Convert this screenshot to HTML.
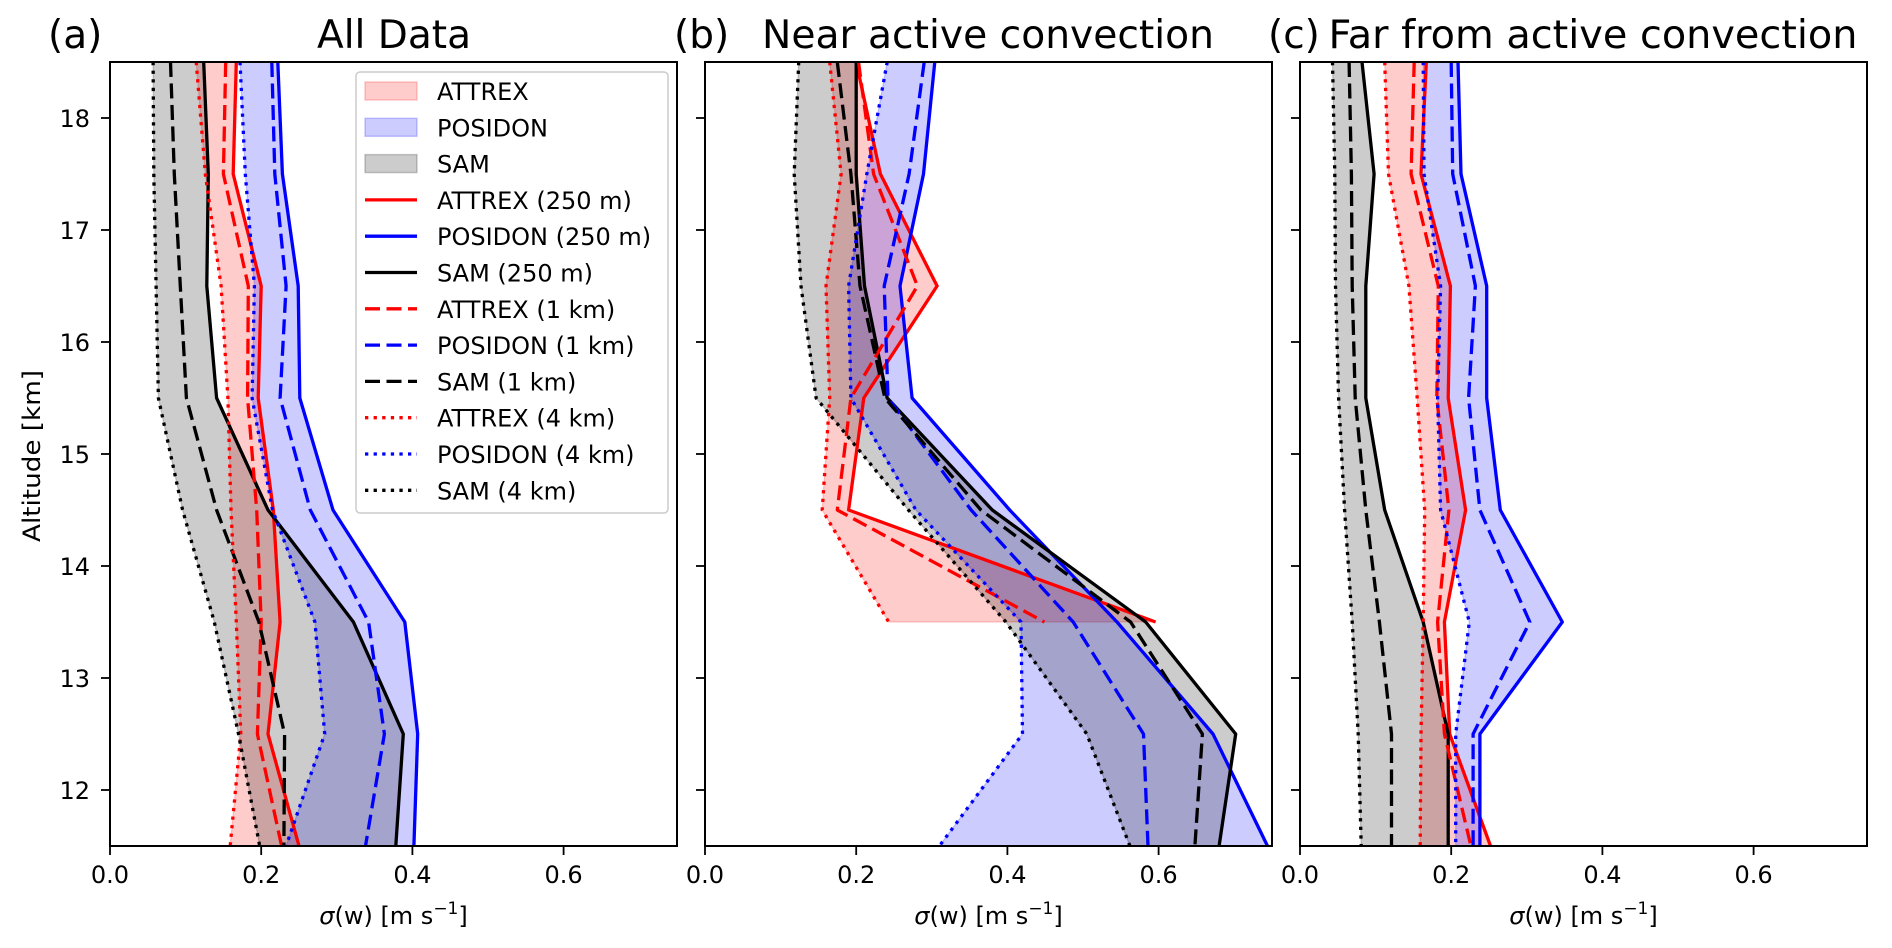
<!DOCTYPE html>
<html><head><meta charset="utf-8"><style>
html,body{margin:0;padding:0;background:#fff;}
svg{display:block;font-family:"DejaVu Sans","Liberation Sans",sans-serif;}
</style></head><body>
<svg id="chart" width="1892" height="948" viewBox="0 0 1892 948" xmlns="http://www.w3.org/2000/svg"></svg>
<script>
// ---- data ----
const levels = [18.5, 17.5, 16.5, 15.5, 14.5, 13.5, 12.5, 11.5];
const xTicks = [0.0, 0.2, 0.4, 0.6];
const xTickLabels = ["0.0", "0.2", "0.4", "0.6"];
const yTicks = [12, 13, 14, 15, 16, 17, 18];
const yTickLabels = ["12", "13", "14", "15", "16", "17", "18"];
const panelTitles = ["All Data", "Near active convection", "Far from active convection"];
const panelLetters = ["(a)", "(b)", "(c)"];

// Panel (a) All Data
const aAttrex250 = [0.167, 0.163, 0.200, 0.196, 0.216, 0.225, 0.209, 0.250];
const aAttrex1k  = [0.153, 0.150, 0.183, 0.182, 0.194, 0.200, 0.195, 0.227];
const aAttrex4k  = [0.114, 0.126, 0.147, 0.156, 0.160, 0.167, 0.173, 0.159];
const aPosidon250 = [0.222, 0.228, 0.249, 0.251, 0.295, 0.390, 0.407, 0.402];
const aPosidon1k  = [0.214, 0.218, 0.233, 0.225, 0.265, 0.342, 0.363, 0.338];
const aPosidon4k  = [0.172, 0.179, 0.191, 0.188, 0.215, 0.271, 0.284, 0.233];
const aSam250 = [0.124, 0.130, 0.128, 0.141, 0.209, 0.322, 0.388, 0.378];
const aSam1k  = [0.080, 0.085, 0.093, 0.101, 0.141, 0.197, 0.231, 0.230];
const aSam4k  = [0.057, 0.058, 0.061, 0.064, 0.096, 0.138, 0.170, 0.198];

// Panel (b) Near active convection
const bAttrex250 = [0.200, 0.232, 0.307, 0.210, 0.190, 0.596, null, null];
const bAttrex1k  = [0.203, 0.223, 0.281, 0.193, 0.175, 0.449, null, null];
const bAttrex4k  = [0.165, 0.180, 0.160, 0.165, 0.155, 0.243, null, null];
const bPosidon250 = [0.304, 0.289, 0.258, 0.274, 0.403, 0.545, 0.672, 0.744];
const bPosidon1k  = [0.290, 0.270, 0.237, 0.242, 0.352, 0.487, 0.580, 0.586];
const bPosidon4k  = [0.241, 0.214, 0.190, 0.193, 0.279, 0.418, 0.420, 0.310];
const bSam250 = [0.200, 0.200, 0.211, 0.241, 0.380, 0.583, 0.702, 0.680];
const bSam1k  = [0.175, 0.193, 0.205, 0.238, 0.365, 0.563, 0.658, 0.648];
const bSam4k  = [0.124, 0.118, 0.127, 0.147, 0.269, 0.398, 0.505, 0.562];

// Panel (c) Far from active convection
const cAttrex250 = [0.167, 0.160, 0.199, 0.196, 0.219, 0.191, 0.198, 0.252];
const cAttrex1k  = [0.151, 0.147, 0.183, 0.181, 0.197, 0.182, 0.191, 0.226];
const cAttrex4k  = [0.112, 0.117, 0.144, 0.155, 0.165, 0.163, 0.160, 0.159];
const cPosidon250 = [0.209, 0.213, 0.247, 0.247, 0.265, 0.347, 0.238, 0.238];
const cPosidon1k  = [0.200, 0.202, 0.232, 0.223, 0.238, 0.304, 0.229, 0.229];
const cPosidon4k  = [0.163, 0.164, 0.186, 0.182, 0.186, 0.224, 0.206, 0.206];
const cSam250 = [0.082, 0.098, 0.087, 0.087, 0.112, 0.163, 0.196, 0.196];
const cSam1k  = [0.065, 0.068, 0.069, 0.073, 0.087, 0.105, 0.121, 0.121];
const cSam4k  = [0.043, 0.046, 0.047, 0.051, 0.059, 0.069, 0.077, 0.081];

const panelsData = [
  {att:[aAttrex250,aAttrex1k,aAttrex4k], pos:[aPosidon250,aPosidon1k,aPosidon4k], sam:[aSam250,aSam1k,aSam4k]},
  {att:[bAttrex250,bAttrex1k,bAttrex4k], pos:[bPosidon250,bPosidon1k,bPosidon4k], sam:[bSam250,bSam1k,bSam4k]},
  {att:[cAttrex250,cAttrex1k,cAttrex4k], pos:[cPosidon250,cPosidon1k,cPosidon4k], sam:[cSam250,cSam1k,cSam4k]}
];

// ---- layout ----
const NS = "http://www.w3.org/2000/svg";
const svg = document.getElementById("chart");
const panelLeft = [110, 705, 1300];
const PW = 567, PT = 62, PB = 846;
const XMAX = 0.75, YMIN = 11.5, YMAX = 18.5;
const titleCenters = [394, 988, 1593];
const titleWidths = [154, 452, 529];
const letterX = [48, 674, 1268];

function mk(tag, attrs, parent) {
  const e = document.createElementNS(NS, tag);
  for (const k in attrs) e.setAttribute(k, attrs[k]);
  (parent || svg).appendChild(e);
  return e;
}

const colors = {att:"#ff0000", pos:"#0000ff", sam:"#000000"};
const seriesNames = {att:"attrex", pos:"posidon", sam:"sam"};
const resNames = ["250m", "1km", "4km"];
const dashes = ["", "15 6.5", "3.3 5.3"];

const defs = mk("defs", {});

panelsData.forEach((pd, pi) => {
  const L = panelLeft[pi];
  const xs = v => L + v / XMAX * PW;
  const ys = h => PT + (YMAX - h) / (YMAX - YMIN) * (PB - PT);

  const g = mk("g", {});
  
  

  const cp = mk("clipPath", {id: "clip" + pi}, defs);
  mk("rect", {x: L, y: PT, width: PW, height: PB - PT}, cp);
  const plot = mk("g", {"clip-path": "url(#clip" + pi + ")"}, g);

  // fills
  ["att", "pos", "sam"].forEach(key => {
    const hi = pd[key][0], lo = pd[key][2];
    const top = [], bot = [];
    levels.forEach((h, i) => {
      if (hi[i] != null && lo[i] != null) {
        top.push(xs(hi[i]).toFixed(1) + "," + ys(h).toFixed(1));
        bot.unshift(xs(lo[i]).toFixed(1) + "," + ys(h).toFixed(1));
      }
    });
    const p = mk("polygon", {points: top.concat(bot).join(" "), fill: colors[key], "fill-opacity": 0.2, stroke: colors[key], "stroke-opacity": 0.2, "stroke-width": 1.2}, plot);
    
    
  });

  // lines
  [0, 1, 2].forEach(r => {
    ["att", "pos", "sam"].forEach(key => {
      const vals = pd[key][r];
      const pts = [];
      levels.forEach((h, i) => { if (vals[i] != null) pts.push(xs(vals[i]).toFixed(1) + "," + ys(h).toFixed(1)); });
      const attrs = {points: pts.join(" "), fill: "none", stroke: colors[key], "stroke-width": 3.3, "stroke-linejoin": "round"};
      if (dashes[r]) attrs["stroke-dasharray"] = dashes[r];
      const l = mk("polyline", attrs, plot);
      
      
    });
  });

  // frame
  const fr = mk("rect", {x: L, y: PT, width: PW, height: PB - PT, fill: "none", stroke: "#000", "stroke-width": 2}, g);
  
  

  // x ticks
  xTicks.forEach((t, i) => {
    mk("line", {x1: xs(t), x2: xs(t), y1: PB, y2: PB + 9, stroke: "#000", "stroke-width": 1.8}, g);
    const tl = mk("text", {x: xs(t), y: 883, "font-size": 24, "text-anchor": "middle", fill: "#000"}, g);
    tl.textContent = xTickLabels[i];
    
    
  });
  // y ticks
  yTicks.forEach((t, i) => {
    mk("line", {x1: L - 9, x2: L, y1: ys(t), y2: ys(t), stroke: "#000", "stroke-width": 1.8}, g);
    if (pi === 0) {
      const tl = mk("text", {x: L - 20, y: ys(t) + 9, "font-size": 24, "text-anchor": "end", fill: "#000"}, g);
      tl.textContent = yTickLabels[i];
      
      
    }
  });

  // x label
  const xl = mk("text", {x: L + PW / 2, y: 924, "font-size": 24, "text-anchor": "middle", fill: "#000"}, g);
  xl.innerHTML = '<tspan font-style="italic">σ</tspan>(w) [m s<tspan dy="-10" font-size="17">−1</tspan><tspan dy="10">]</tspan>';
  
  

  // titles
  const tt = mk("text", {x: titleCenters[pi], y: 48, "font-size": 39, "text-anchor": "middle", fill: "#000", textLength: titleWidths[pi], lengthAdjust: "spacingAndGlyphs"}, g);
  tt.textContent = panelTitles[pi];
  
  
  const lt = mk("text", {x: letterX[pi], y: 48, "font-size": 39, fill: "#000"}, g);
  lt.textContent = panelLetters[pi];
  
  
});

// y label
const yl = mk("text", {x: 0, y: 0, "font-size": 24, "text-anchor": "middle", fill: "#000", transform: "translate(40,456) rotate(-90)", textLength: 172, lengthAdjust: "spacingAndGlyphs"});
yl.textContent = "Altitude [km]";



// legend
const lg = mk("g", {});


mk("rect", {x: 356, y: 72, width: 312, height: 441, rx: 4, fill: "#fff", "fill-opacity": 0.8, stroke: "#cccccc", "stroke-width": 1.5}, lg);
const legendLabels = ["ATTREX", "POSIDON", "SAM", "ATTREX (250 m)", "POSIDON (250 m)", "SAM (250 m)", "ATTREX (1 km)", "POSIDON (1 km)", "SAM (1 km)", "ATTREX (4 km)", "POSIDON (4 km)", "SAM (4 km)"];
const keys = ["att", "pos", "sam"];
legendLabels.forEach((lab, i) => {
  const cy = 91 + i * 36.3;
  const key = keys[i % 3];
  const e = mk("g", {}, lg);
  
  
  if (i < 3) {
    mk("rect", {x: 365, y: cy - 9, width: 52, height: 18, fill: colors[key], "fill-opacity": 0.2, stroke: colors[key], "stroke-opacity": 0.2, "stroke-width": 1.5}, e);
  } else {
    const r = Math.floor((i - 3) / 3);
    const a = {x1: 365, x2: 417, y1: cy, y2: cy, stroke: colors[key], "stroke-width": 3.3};
    if (dashes[r]) a["stroke-dasharray"] = dashes[r];
    mk("line", a, e);
  }
  const t = mk("text", {x: 437, y: cy + 9, "font-size": 24, fill: "#000"}, e);
  t.textContent = lab;
});
</script>
</body></html>
